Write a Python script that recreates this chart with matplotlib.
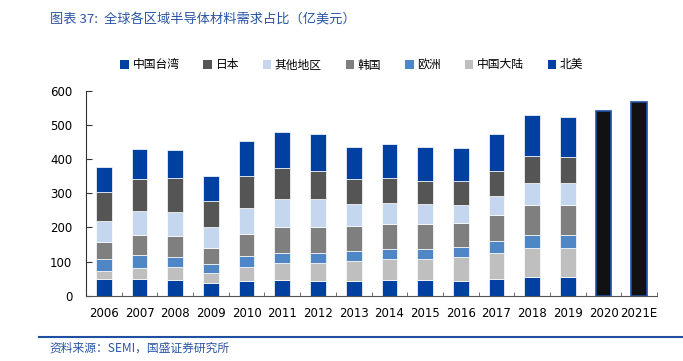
import numpy as np
import matplotlib.pyplot as plt
from matplotlib.patches import Patch

plt.rcParams['font.family'] = ['DejaVu Sans', 'Noto Sans CJK SC']

years = ['2006', '2007', '2008', '2009', '2010', '2011', '2012', '2013',
         '2014', '2015', '2016', '2017', '2018', '2019', '2020', '2021E']

# 分区域数据 (2006-2019)，单位：亿美元
na = [49, 49, 47, 36, 42, 45, 44, 44, 46, 46, 44, 49, 54, 54]          # 北美
cn = [24, 31, 36, 31, 43, 50, 51, 57, 62, 62, 69, 77, 87, 87]          # 中国大陆
eu = [33, 39, 31, 27, 32, 30, 30, 29, 28, 28, 31, 33, 37, 37]          # 欧洲
kr = [51, 59, 61, 47, 64, 77, 75, 73, 73, 75, 70, 76, 89, 89]          # 韩国
other = [61, 70, 70, 59, 77, 81, 82, 66, 63, 59, 51, 58, 64, 62]       # 其他地区
jp = [86, 95, 101, 77, 93, 91, 83, 73, 72, 67, 70, 73, 78, 77]         # 日本
tw = [74, 86, 81, 75, 101, 107, 110, 93, 100, 100, 97, 107, 122, 119]  # 中国台湾

total_fc = [541, 568]  # 2020, 2021E

c_tw = '#0040A0'
c_jp = '#555555'
c_other = '#C5D7EE'
c_kr = '#7F7F7F'
c_eu = '#4F86C6'
c_cn = '#BFBFBF'
c_na = '#0040A0'

fig = plt.figure(figsize=(6.83, 3.61), dpi=100)
ax = fig.add_axes([0.126, 0.181, 0.836, 0.567])

x = np.arange(len(na))
w = 0.44
series = [(na, c_na), (cn, c_cn), (eu, c_eu), (kr, c_kr),
          (other, c_other), (jp, c_jp), (tw, c_tw)]
bottom = np.zeros(len(na))
for vals, col in series:
    ax.bar(x, vals, w, bottom=bottom, color=col, edgecolor='white', linewidth=0.5)
    bottom += np.array(vals)

xf = np.arange(len(na), len(years))
ax.bar(xf, total_fc, w, color='#111111', edgecolor='#2050A8', linewidth=1.2)

ax.set_xlim(-0.5, len(years) - 0.5)
ax.set_ylim(0, 600)
ax.set_yticks(range(0, 601, 100))
ax.set_xticks(np.arange(len(years)))
ax.set_xticklabels(years)
ax.set_xticks(np.arange(0.5, len(years), 1), minor=True)
ax.tick_params(axis='x', which='major', length=0, pad=8, labelsize=8.5)
ax.tick_params(axis='x', which='minor', direction='in', length=3, color='#555555')
ax.tick_params(axis='y', direction='in', length=4, labelsize=8.5, pad=10, color='#333333')
for s in ['top', 'right']:
    ax.spines[s].set_visible(False)
ax.spines['left'].set_color('#333333')
ax.spines['bottom'].set_color('#555555')

labels = ['中国台湾', '日本', '其他地区', '韩国', '欧洲', '中国大陆', '北美']
colors = [c_tw, c_jp, c_other, c_kr, c_eu, c_cn, c_na]
handles = [Patch(facecolor=c, edgecolor='none') for c in colors]
fig.legend(handles, labels, ncol=7, frameon=False, loc='center',
           bbox_to_anchor=(0.515, 0.82), handlelength=0.75,
           handleheight=0.75, handletextpad=0.3, columnspacing=2.0,
           prop={'family': ['Noto Sans CJK SC'], 'size': 8.5})

fig.text(0.073, 0.948, '图表 37:  全球各区域半导体材料需求占比（亿美元）', color='#2A55A5',
         fontsize=9.5, style='italic', family=['Noto Sans CJK SC'], va='center')
fig.add_artist(plt.Line2D([0.057, 1.0], [0.066, 0.066], color='#1F4FA0', lw=1.5))
fig.text(0.073, 0.035, '资料来源：SEMI，国盛证券研究所', color='#2A55A5',
         fontsize=8.5, style='italic', family=['Noto Sans CJK SC'], va='center')

fig.savefig('out.png', dpi=100)
